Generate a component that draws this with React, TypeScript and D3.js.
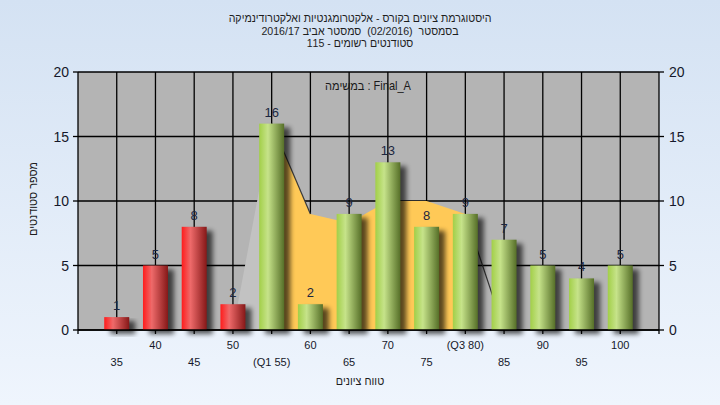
import React from 'react';
import * as d3 from 'd3';

const categories = ['35', '40', '45', '50', '55', '60', '65', '70', '75', '80', '85', '90', '95', '100'];
const tickLabels = ['35', '40', '45', '50', '(Q1 55)', '60', '65', '70', '75', '(Q3 80)', '85', '90', '95', '100'];
const counts = [1, 5, 8, 2, 16, 2, 9, 13, 8, 9, 7, 5, 4, 5];
const barKinds = ['red', 'red', 'red', 'red', 'green', 'green', 'green', 'green', 'green', 'green', 'green', 'green', 'green', 'green'];

// the shaded curve behind the bars
const curveCats = ['50', '55', '60', '65', '70', '75', '80', '85'];
const curveValues = [0, 16, 9, 8.3, 10, 10, 9, 0];

const yTicks = [0, 5, 10, 15, 20];

const titleLines = [
  'היסטוגרמת ציונים בקורס - אלקטרומגנטיות ואלקטרודינמיקה',
  'בסמסטר  (02/2016)  סמסטר אביב 2016/17',
  'סטודנטים רשומים - 115',
];

const W = 720;
const H = 405;
const left = 78;
const right = 659;
const top = 72;
const bottom = 330;
const barW = 25;
const sans = '"Liberation Sans", Arial, sans-serif';

const App: React.FC = () => {
  const x = d3.scalePoint<string>().domain(categories).range([left, right]).padding(1);
  const y = d3.scaleLinear().domain([0, 20]).range([bottom, top]);

  const pts = curveCats.map((c, i) => ({ x: x(c) || 0, v: curveValues[i] }));
  const area = d3.area<{ x: number; v: number }>()
    .x(d => d.x)
    .y0(y(0))
    .y1(d => y(d.v));
  const line = d3.line<{ x: number; v: number }>()
    .x(d => d.x)
    .y(d => y(d.v));

  return (
    <svg width={W} height={H} style={{ position: 'fixed', left: 0, top: 0 }}>
      <defs>
        <linearGradient id="bg" x1="0" y1="0" x2="0" y2="1">
          <stop offset="0%" stopColor="#d4e2f3" />
          <stop offset="100%" stopColor="#eff5fd" />
        </linearGradient>
        <linearGradient id="red" x1="0" y1="0" x2="1" y2="0">
          <stop offset="0%" stopColor="#ff1c1c" />
          <stop offset="35%" stopColor="#ee6a6a" />
          <stop offset="100%" stopColor="#861818" />
        </linearGradient>
        <linearGradient id="green" x1="0" y1="0" x2="1" y2="0">
          <stop offset="0%" stopColor="#a2cf48" />
          <stop offset="35%" stopColor="#c6e38a" />
          <stop offset="100%" stopColor="#566f28" />
        </linearGradient>
        <filter id="shadow" x="-50%" y="-20%" width="200%" height="140%">
          <feGaussianBlur stdDeviation="2.5" />
        </filter>
      </defs>

      <rect x={0} y={0} width={W} height={H} fill="url(#bg)" />

      {/* titles, horizontally condensed like the original narrow face */}
      <g transform="translate(360,0) scale(0.9,1)">
        {titleLines.map((t, i) => (
          <text key={i} x={0} y={22 + i * 12.7} textAnchor="middle" direction="rtl"
            style={{ whiteSpace: 'pre' }} fontFamily={sans} fontSize={11.8} fill="#1e1e1e">{t}</text>
        ))}
      </g>

      {/* plot area */}
      <rect x={left} y={top} width={right - left} height={bottom - top} fill="#b4b4b4" />

      {/* grid */}
      {yTicks.map(t => (
        <line key={'h' + t} x1={left} x2={right} y1={y(t)} y2={y(t)} stroke="#000" strokeWidth={1.3} />
      ))}
      {categories.map(c => (
        <line key={'v' + c} x1={x(c)} x2={x(c)} y1={top} y2={bottom} stroke="#000" strokeWidth={1.3} />
      ))}

      {/* curve */}
      <path d={area(pts.slice(0, 2)) || ''} fill="#c2c2c2" />
      <path d={area(pts.slice(1, 7)) || ''} fill="#ffc957" />
      <path d={line(pts.slice(1, 3)) || ''} fill="none" stroke="#3a3a3a" strokeWidth={1.2} />
      <path d={line(pts.slice(6, 8)) || ''} fill="none" stroke="#333" strokeWidth={1.2} />

      <g transform="translate(368,0) scale(0.92,1)">
        <text x={0} y={90} textAnchor="middle" fontFamily={sans} fontSize={12} fill="#1a1a1a">
          במשימה : Final_A
        </text>
      </g>

      {/* bar shadows */}
      {categories.map((c, i) => (
        <rect key={'s' + c} x={(x(c) || 0) - barW / 2 + 6} y={y(counts[i]) + 4} width={barW}
          height={y(0) - y(counts[i])} fill="#000" opacity={0.65} filter="url(#shadow)" />
      ))}

      {/* bars */}
      {categories.map((c, i) => (
        <rect key={'b' + c} x={(x(c) || 0) - barW / 2} y={y(counts[i])} width={barW}
          height={y(0) - y(counts[i])} fill={`url(#${barKinds[i]})`} />
      ))}

      {/* value labels */}
      {categories.map((c, i) => (
        <text key={'l' + c} x={x(c)} y={y(counts[i]) - 7} textAnchor="middle"
          fontFamily={sans} fontSize={13} fill="#1b2640">{counts[i]}</text>
      ))}

      {/* axes */}
      <line x1={left} x2={right} y1={bottom} y2={bottom} stroke="#000" strokeWidth={1.3} />
      <line x1={left} x2={left} y1={top} y2={bottom + 4} stroke="#000" strokeWidth={1.3} />
      <line x1={right} x2={right} y1={top} y2={bottom + 4} stroke="#000" strokeWidth={1.3} />
      {categories.map(c => (
        <line key={'t' + c} x1={x(c)} x2={x(c)} y1={bottom} y2={bottom + 4} stroke="#000" strokeWidth={1.3} />
      ))}
      {yTicks.map(t => (
        <g key={'y' + t}>
          <line x1={left - 5} x2={left} y1={y(t)} y2={y(t)} stroke="#000" strokeWidth={1.3} />
          <line x1={right} x2={right + 5} y1={y(t)} y2={y(t)} stroke="#000" strokeWidth={1.3} />
          <text x={left - 9} y={y(t) + 5} textAnchor="end" fontFamily={sans} fontSize={14} fill="#15182a">{t}</text>
          <text x={right + 10} y={y(t) + 5} textAnchor="start" fontFamily={sans} fontSize={14} fill="#15182a">{t}</text>
        </g>
      ))}

      {/* x tick labels, staggered */}
      {categories.map((c, i) => (
        <text key={'x' + c} x={x(c)} y={i % 2 === 1 ? 349 : 366} textAnchor="middle"
          fontFamily={sans} fontSize={11} fill="#15182a">{tickLabels[i]}</text>
      ))}

      <g transform="translate(360,0) scale(0.9,1)">
        <text x={0} y={385} textAnchor="middle" fontFamily={sans} fontSize={12} fill="#1e1e1e">טווח ציונים</text>
      </g>
      <g transform={`translate(37,${(top + bottom) / 2 - 2}) rotate(-90) scale(0.9,1)`}>
        <text x={0} y={0} textAnchor="middle" fontFamily={sans} fontSize={12} fill="#1e1e1e">מספר סטודנטים</text>
      </g>
    </svg>
  );
};

export default App;
